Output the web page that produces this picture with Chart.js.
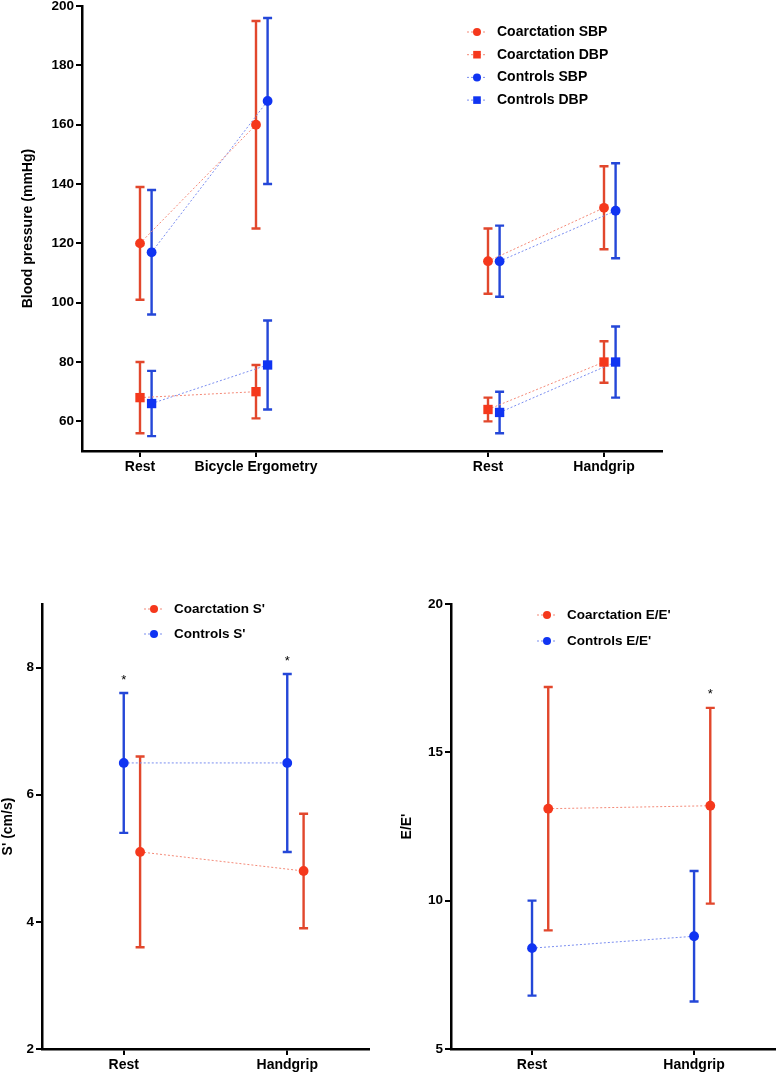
<!DOCTYPE html>
<html>
<head>
<meta charset="utf-8">
<script src="https://cdn.jsdelivr.net/npm/chart.js@4.4.1/dist/chart.umd.min.js"></script>
<style>
  body { margin: 0; background: #fff; width: 780px; height: 1073px; position: relative; overflow: hidden; }
  canvas { position: absolute; }
</style>
</head>
<body>
<canvas id="bp" width="780" height="484" style="left:0;top:-4px"></canvas>
<canvas id="sPrime" width="390" height="493" style="left:0;top:580px"></canvas>
<canvas id="ee" width="390" height="493" style="left:390px;top:580px"></canvas>
<script>
// top panel - blood pressure, two protocols
const bpPos = [1, 2, 4, 5];
const bpLabels = ['Rest', 'Bicycle Ergometry', 'Rest', 'Handgrip'];
const bpTicks = [60, 80, 100, 120, 140, 160, 180, 200];
const coSBP = [120, 160, 114, 132];
const coSBPlo = [101, 125, 103, 118];
const coSBPhi = [139, 195, 125, 146];
const coDBP = [68, 70, 64, 80];
const coDBPlo = [56, 61, 60, 73];
const coDBPhi = [80, 79, 68, 87];
const ctSBP = [117, 168, 114, 131];
const ctSBPlo = [96, 140, 102, 115];
const ctSBPhi = [138, 196, 126, 147];
const ctDBP = [66, 79, 63, 80];
const ctDBPlo = [55, 64, 56, 68];
const ctDBPhi = [77, 94, 70, 92];

// bottom panels - rest vs handgrip
const hgPos = [1, 2];
const hgLabels = ['Rest', 'Handgrip'];
const sTicks = [2, 4, 6, 8];
const coS = [5.1, 4.8];
const coSlo = [3.6, 3.9];
const coShi = [6.6, 5.7];
const ctS = [6.5, 6.5];
const ctSlo = [5.4, 5.1];
const ctShi = [7.6, 7.9];
const sStars = [1, 1];      // on controls
const eTicks = [5, 10, 15, 20];
const coE = [13.1, 13.2];
const coElo = [9.0, 9.9];
const coEhi = [17.2, 16.5];
const ctE = [8.4, 8.8];
const ctElo = [6.8, 6.6];
const ctEhi = [10.0, 11.0];
const eStars = [0, 1];      // on coarctation

const FONT = '"Liberation Sans", Arial, Helvetica, sans-serif';
const RED = '#f5381c', RED_BAR = '#e2472c', RED_LINE = '#f48a78';
const BLUE = '#1034f2', BLUE_BAR = '#2447d8', BLUE_LINE = '#7b8ef0';

// break the line where positions jump (between the two protocols)
function points(pos, vals, shift) {
  const out = [];
  pos.forEach((p, i) => {
    if (i > 0 && p - pos[i - 1] > 1) out.push({ x: p - 1, y: null });
    out.push({ x: p + shift, y: vals[i] });
  });
  return out;
}

function series(label, pos, vals, lo, hi, shift, color, bar, line, style) {
  return {
    label: label,
    data: points(pos, vals, shift),
    errLo: points(pos, lo, shift).map(d => d.y),
    errHi: points(pos, hi, shift).map(d => d.y),
    barColor: bar,
    markColor: color,
    borderColor: line,
    borderWidth: 1,
    borderDash: [2, 2],
    pointStyle: style,
    pointRadius: style === 'rect' ? 6.6 : 4.9,
    pointBackgroundColor: color,
    pointBorderColor: color,
    pointBorderWidth: 0,
    pointHoverRadius: 0,
    showLine: true,
    spanGaps: false,
    tension: 0
  };
}

const errorBars = {
  id: 'errorBars',
  beforeDatasetsDraw(chart) {
    const ctx = chart.ctx, y = chart.scales.y;
    chart.data.datasets.forEach((ds, di) => {
      chart.getDatasetMeta(di).data.forEach((pt, i) => {
        if (ds.errLo[i] == null) return;
        const top = y.getPixelForValue(ds.errHi[i]);
        const bot = y.getPixelForValue(ds.errLo[i]);
        ctx.save();
        ctx.strokeStyle = ds.barColor;
        ctx.lineWidth = 2.4;
        ctx.beginPath();
        ctx.moveTo(pt.x, top); ctx.lineTo(pt.x, bot);
        ctx.moveTo(pt.x - 4.5, top); ctx.lineTo(pt.x + 4.5, top);
        ctx.moveTo(pt.x - 4.5, bot); ctx.lineTo(pt.x + 4.5, bot);
        ctx.stroke();
        ctx.restore();
      });
    });
  }
};

function legendAt(x, y0, gap, size) {
  return {
    id: 'ownLegend',
    afterDraw(chart) {
      const ctx = chart.ctx;
      chart.data.datasets.forEach((ds, i) => {
        const y = y0 + i * gap;
        ctx.save();
        ctx.strokeStyle = ds.borderColor;
        ctx.lineWidth = 1;
        ctx.setLineDash([2, 2]);
        ctx.beginPath();
        ctx.moveTo(x - 10, y); ctx.lineTo(x + 10, y);
        ctx.stroke();
        ctx.fillStyle = ds.markColor;
        if (ds.pointStyle === 'rect') {
          ctx.fillRect(x - 3.8, y - 3.8, 7.6, 7.6);
        } else {
          ctx.beginPath();
          ctx.arc(x, y, 4, 0, Math.PI * 2);
          ctx.fill();
        }
        ctx.fillStyle = '#000';
        ctx.font = 'bold ' + size + 'px ' + FONT;
        ctx.textBaseline = 'middle';
        ctx.fillText(ds.label, x + 20, y);
        ctx.restore();
      });
    }
  };
}

function starsOn(dsIndex, flags) {
  return {
    id: 'stars',
    afterDatasetsDraw(chart) {
      const ctx = chart.ctx, ds = chart.data.datasets[dsIndex];
      const meta = chart.getDatasetMeta(dsIndex);
      flags.forEach((f, i) => {
        if (!f) return;
        const top = chart.scales.y.getPixelForValue(ds.errHi[i]);
        ctx.save();
        ctx.fillStyle = '#000';
        ctx.font = '13px ' + FONT;
        ctx.textAlign = 'center';
        ctx.textBaseline = 'middle';
        ctx.fillText('*', meta.data[i].x, top - 13);
        ctx.restore();
      });
    }
  };
}

function scalesFor(o) {
  const axisGrid = { drawOnChartArea: false, drawTicks: true, tickLength: 6, color: '#000', lineWidth: 2 };
  const axisBorder = { color: '#000', width: 2.5 };
  return {
    x: {
      type: 'linear', min: o.xMin, max: o.xMax,
      afterBuildTicks: s => { s.ticks = o.xPos.map(v => ({ value: v })); },
      afterFit: s => { s.height = o.xH; },
      ticks: {
        autoSkip: false, maxRotation: 0, padding: 2, color: '#000',
        font: { family: FONT, size: 14, weight: 'bold' },
        callback: v => o.xLabels[o.xPos.indexOf(v)]
      },
      grid: axisGrid,
      border: axisBorder
    },
    y: {
      type: 'linear', min: o.yMin, max: o.yMax,
      afterBuildTicks: s => { s.ticks = o.yTicks.map(v => ({ value: v })); },
      afterFit: s => { s.width = o.yW; },
      ticks: { padding: 2, color: '#000', font: { family: FONT, size: 13.5, weight: 'bold' } },
      grid: axisGrid,
      border: axisBorder,
      title: {
        display: true, text: o.title, color: '#000',
        font: { family: FONT, size: 14, weight: 'bold' },
        padding: { top: o.titlePad, bottom: 0 }
      }
    }
  };
}

const baseOptions = (pad, scales) => ({
  responsive: false,
  animation: false,
  devicePixelRatio: 1,
  layout: { padding: pad },
  plugins: { legend: { display: false }, tooltip: { enabled: false } },
  scales: scales
});

new Chart(document.getElementById('bp'), {
  type: 'line',
  data: {
    datasets: [
      series('Coarctation SBP', bpPos, coSBP, coSBPlo, coSBPhi, 0, RED, RED_BAR, RED_LINE, 'circle'),
      series('Coarctation DBP', bpPos, coDBP, coDBPlo, coDBPhi, 0, RED, RED_BAR, RED_LINE, 'rect'),
      series('Controls SBP', bpPos, ctSBP, ctSBPlo, ctSBPhi, 0.1, BLUE, BLUE_BAR, BLUE_LINE, 'circle'),
      series('Controls DBP', bpPos, ctDBP, ctDBPlo, ctDBPhi, 0.1, BLUE, BLUE_BAR, BLUE_LINE, 'rect')
    ]
  },
  options: baseOptions({ left: 0, top: 10, right: 118, bottom: 0 }, scalesFor({
    xMin: 0.5, xMax: 5.5, xPos: bpPos, xLabels: bpLabels, xH: 29,
    yMin: 50, yMax: 200, yTicks: bpTicks, yW: 82,
    title: 'Blood pressure (mmHg)', titlePad: 20
  })),
  plugins: [errorBars, legendAt(477, 36, 22.7, 14)]
});

new Chart(document.getElementById('sPrime'), {
  type: 'line',
  data: {
    datasets: [
      series("Coarctation S'", hgPos, coS, coSlo, coShi, 0.1, RED, RED_BAR, RED_LINE, 'circle'),
      series("Controls S'", hgPos, ctS, ctSlo, ctShi, 0, BLUE, BLUE_BAR, BLUE_LINE, 'circle')
    ]
  },
  options: baseOptions({ left: 0, top: 24, right: 21, bottom: 0 }, scalesFor({
    xMin: 0.5, xMax: 2.5, xPos: hgPos, xLabels: hgLabels, xH: 24,
    yMin: 2, yMax: 9, yTicks: sTicks, yW: 42,
    title: "S' (cm/s)", titlePad: 0
  })),
  plugins: [errorBars, starsOn(1, sStars), legendAt(154, 29, 25, 13.5)]
});

new Chart(document.getElementById('ee'), {
  type: 'line',
  data: {
    datasets: [
      series("Coarctation E/E'", hgPos, coE, coElo, coEhi, 0.1, RED, RED_BAR, RED_LINE, 'circle'),
      series("Controls E/E'", hgPos, ctE, ctElo, ctEhi, 0, BLUE, BLUE_BAR, BLUE_LINE, 'circle')
    ]
  },
  options: baseOptions({ left: 0, top: 24, right: 0, bottom: 0 }, scalesFor({
    xMin: 0.5, xMax: 2.5, xPos: hgPos, xLabels: hgLabels, xH: 24,
    yMin: 5, yMax: 20, yTicks: eTicks, yW: 61,
    title: "E/E'", titlePad: 9
  })),
  plugins: [errorBars, starsOn(0, eStars), legendAt(157, 35, 26, 13.5)]
});
</script>
</body>
</html>
